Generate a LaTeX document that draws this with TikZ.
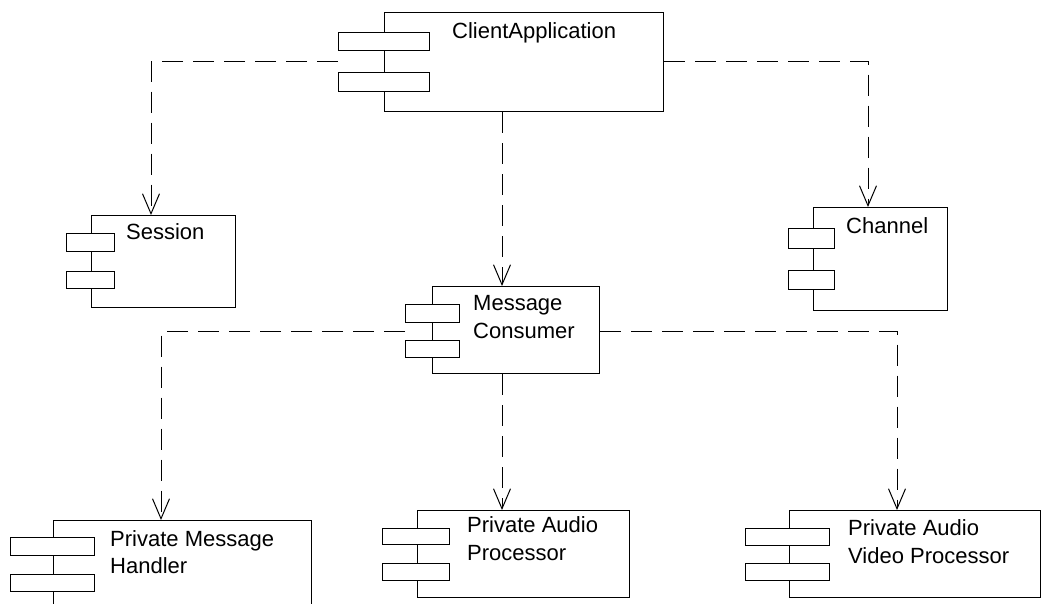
\documentclass[tikz,border=0pt]{standalone}
\usepackage{fontspec}
\setmainfont{Liberation Sans}
\usetikzlibrary{arrows.meta,calc}

\tikzset{
  comp/.style={draw, rectangle, anchor=north west, inner sep=0pt, line width=1pt},
  tab/.style={draw, fill=white, rectangle, anchor=north west, inner sep=0pt, line width=1pt},
  lbl/.style={anchor=base west, inner sep=0pt, font=\fontsize{22}{28}\selectfont},
  dep/.style={line width=1pt, dash pattern=on 21pt off 10pt,
    -{Straight Barb[length=20pt,width=17pt,line width=1pt]}}
}

\begin{document}
\begin{tikzpicture}[x=1pt,y=-1pt]
\useasboundingbox (0,0) rectangle (1042,603);
\clip (0,0) rectangle (1042,603);

% ClientApplication
\node[comp, minimum width=279pt, minimum height=99pt] (client) at (384,12) {};
\node[tab, minimum width=91pt, minimum height=18pt] (client-t1) at (338,32) {};
\node[tab, minimum width=91pt, minimum height=19pt] (client-t2) at (338,72) {};
\node[lbl] (client-l) at (452,38) {ClientApplication};

% Session
\node[comp, minimum width=144pt, minimum height=92pt] (session) at (91,215) {};
\node[tab, minimum width=48pt, minimum height=18pt] (session-t1) at (66,233) {};
\node[tab, minimum width=48pt, minimum height=17pt] (session-t2) at (66,271) {};
\node[lbl] (session-l) at (126,239) {Session};

% Channel
\node[comp, minimum width=134pt, minimum height=103pt] (channel) at (813,207) {};
\node[tab, minimum width=46pt, minimum height=20pt] (channel-t1) at (788,228) {};
\node[tab, minimum width=46pt, minimum height=19pt] (channel-t2) at (788,270) {};
\node[lbl] (channel-l) at (846,233) {Channel};

% Message Consumer
\node[comp, minimum width=167pt, minimum height=87pt] (mc) at (432,286) {};
\node[tab, minimum width=54pt, minimum height=18pt] (mc-t1) at (405,304) {};
\node[tab, minimum width=54pt, minimum height=17pt] (mc-t2) at (405,340) {};
\node[lbl] (mc-l1) at (473,310) {Message};
\node[lbl] (mc-l2) at (473,338) {Consumer};

% Private Message Handler (runs past the lower edge)
\node[comp, minimum width=258pt, minimum height=110pt] (pmh) at (53,520) {};
\node[tab, minimum width=84pt, minimum height=18pt] (pmh-t1) at (10,537) {};
\node[tab, minimum width=84pt, minimum height=17pt] (pmh-t2) at (10,574) {};
\node[lbl] (pmh-l1) at (110,546) {Private Message};
\node[lbl] (pmh-l2) at (110,573) {Handler};

% Private Audio Processor
\node[comp, minimum width=212pt, minimum height=87pt] (pap) at (417,510) {};
\node[tab, minimum width=67pt, minimum height=16pt] (pap-t1) at (382,528) {};
\node[tab, minimum width=67pt, minimum height=17pt] (pap-t2) at (382,563) {};
\node[lbl] (pap-l1) at (467,532) {Private Audio};
\node[lbl] (pap-l2) at (467,560) {Processor};

% Private Audio Video Processor
\node[comp, minimum width=251pt, minimum height=87pt] (pavp) at (789,510) {};
\node[tab, minimum width=84pt, minimum height=17pt] (pavp-t1) at (745,528) {};
\node[tab, minimum width=84pt, minimum height=17pt] (pavp-t2) at (745,563) {};
\node[lbl] (pavp-l1) at (848,535) {Private Audio};
\node[lbl] (pavp-l2) at (848,563) {Video Processor};

% attachment points between the tabs
\coordinate (clientL) at ($(client-t1.south west)!0.5!(client-t2.north west)$);
\coordinate (mcL) at ($(mc-t1.south west)!0.5!(mc-t2.north west)$);

% dependencies
\draw[dep] (clientL) -| ([xshift=60pt]session.north west);
\draw[dep] (client.east |- clientL) -| ([xshift=55pt]channel.north west);
\draw[dep] ([xshift=70pt]mc.north west |- client.south) -- ([xshift=70pt]mc.north west);
\draw[dep] (mcL) -| ([xshift=108pt]pmh.north west);
\draw[dep] ([xshift=85pt]pap.north west |- mc.south) -- ([xshift=85pt]pap.north west);
\draw[dep] (mc.east |- mcL) -| ([xshift=108pt]pavp.north west);
\end{tikzpicture}
\end{document}
